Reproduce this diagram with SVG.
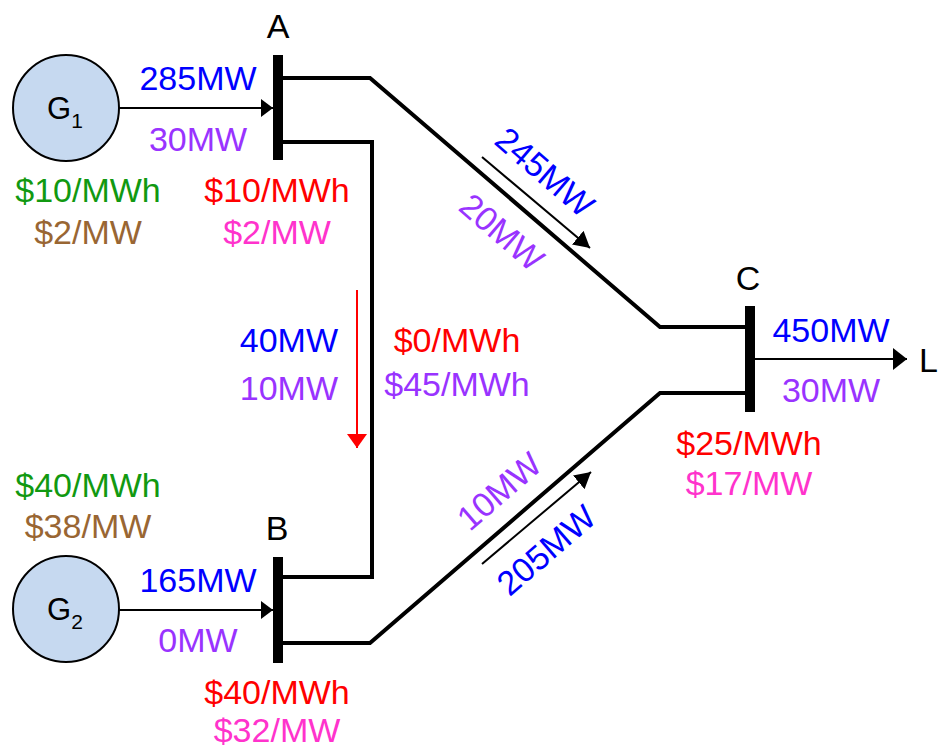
<svg xmlns="http://www.w3.org/2000/svg" width="940" height="750" viewBox="0 0 940 750">
<style>
text{font-family:"Liberation Sans",Arial,sans-serif;font-size:34px;}
.m{text-anchor:middle}
.blk{fill:#000}
.blue{fill:#0000FF}
.pur{fill:#9933FF}
.grn{fill:#119911}
.brn{fill:#996633}
.red{fill:#FF0000}
.pnk{fill:#FF33CC}
.gen{fill:#C6D9F0;stroke:#000;stroke-width:2}
.bus{stroke:#000;stroke-width:10;fill:none}
.ln{stroke:#000;stroke-width:4;fill:none;stroke-linejoin:miter}
.ar{stroke:#000;stroke-width:2;fill:none}
</style>
<defs>
<marker id="ah" markerUnits="userSpaceOnUse" markerWidth="16" markerHeight="20" refX="12" refY="9" orient="auto"><path d="M0,0 L12,9 L0,18 z" fill="#000"/></marker>
<marker id="ahl" markerUnits="userSpaceOnUse" markerWidth="18" markerHeight="24" refX="14" refY="11" orient="auto"><path d="M0,0 L14,11 L0,22 z" fill="#000"/></marker>
<marker id="ahd" markerUnits="userSpaceOnUse" markerWidth="20" markerHeight="20" refX="16" refY="9" orient="auto"><path d="M0,0 L16,9 L0,18 z" fill="#000"/></marker>
<marker id="ahr" markerUnits="userSpaceOnUse" markerWidth="20" markerHeight="24" refX="14" refY="10" orient="auto"><path d="M0,0 L14,10 L0,20 z" fill="#FF0000"/></marker>
</defs>

<g id="connectors">
<line class="ar" x1="119" y1="108" x2="273" y2="108" marker-end="url(#ah)"/>
<line class="ar" x1="119" y1="610" x2="273" y2="610" marker-end="url(#ah)"/>
<line class="ar" x1="755" y1="359" x2="907" y2="359" marker-end="url(#ahl)"/>
<polyline class="ln" points="283,78 370,78 660,327 745,327"/>
<polyline class="ln" points="283,142 372,142 372,577 283,577"/>
<polyline class="ln" points="283,643 370,643 660,393 745,393"/>
<line class="ar" x1="482" y1="157" x2="590" y2="248" marker-end="url(#ahd)"/>
<line class="ar" x1="482" y1="564" x2="591" y2="472" marker-end="url(#ahd)"/>
<line x1="357" y1="290" x2="357" y2="448" stroke="#FF0000" stroke-width="2" marker-end="url(#ahr)"/>
</g>

<g id="G1">
<circle class="gen" cx="66" cy="108" r="53"/>
<text x="47" y="119" style="font-size:31px">G<tspan dy="9" style="font-size:21px">1</tspan></text>
<text class="m grn" x="88" y="202">$10/MWh</text>
<text class="m brn" x="88" y="244">$2/MW</text>
<text class="m blue" x="198" y="90">285MW</text>
<text class="m pur" x="198" y="151">30MW</text>
</g>

<g id="G2">
<circle class="gen" cx="66" cy="609" r="53"/>
<text x="47" y="620" style="font-size:31px">G<tspan dy="9" style="font-size:21px">2</tspan></text>
<text class="m grn" x="88" y="497">$40/MWh</text>
<text class="m brn" x="88" y="538">$38/MW</text>
<text class="m blue" x="198" y="592">165MW</text>
<text class="m pur" x="198" y="652">0MW</text>
</g>

<g id="busA">
<line class="bus" x1="278" y1="55" x2="278" y2="160"/>
<text class="m blk" x="278" y="38">A</text>
<text class="m red" x="277" y="202">$10/MWh</text>
<text class="m pnk" x="277" y="244">$2/MW</text>
</g>

<g id="busB">
<line class="bus" x1="278" y1="557" x2="278" y2="663"/>
<text class="m blk" x="277" y="540">B</text>
<text class="m red" x="277" y="704">$40/MWh</text>
<text class="m pnk" x="277" y="742">$32/MW</text>
</g>

<g id="busC">
<line class="bus" x1="750" y1="306" x2="750" y2="412"/>
<text class="m blk" x="748" y="290">C</text>
<text class="m blue" x="831" y="342">450MW</text>
<text class="m pur" x="831" y="402">30MW</text>
<text class="m red" x="749" y="455">$25/MWh</text>
<text class="m pnk" x="749" y="495">$17/MW</text>
</g>

<g id="L">
<text class="blk" x="919" y="372">L</text>
</g>

<g id="lineAB">
<text class="blue" x="338" y="352" text-anchor="end">40MW</text>
<text class="pur" x="338" y="400" text-anchor="end">10MW</text>
<text class="m red" x="457" y="352">$0/MWh</text>
<text class="m pur" x="457" y="396">$45/MWh</text>
</g>

<g id="lineAC">
<text class="m blue" transform="translate(545,172) rotate(40.6)" x="0" y="12">245MW</text>
<text class="m pur" transform="translate(502,232) rotate(40.6)" x="0" y="12">20MW</text>
</g>

<g id="lineBC">
<text class="m pur" transform="translate(499,491) rotate(-40.8)" x="0" y="12">10MW</text>
<text class="m blue" transform="translate(546,550) rotate(-40.8)" x="0" y="12">205MW</text>
</g>
</svg>
